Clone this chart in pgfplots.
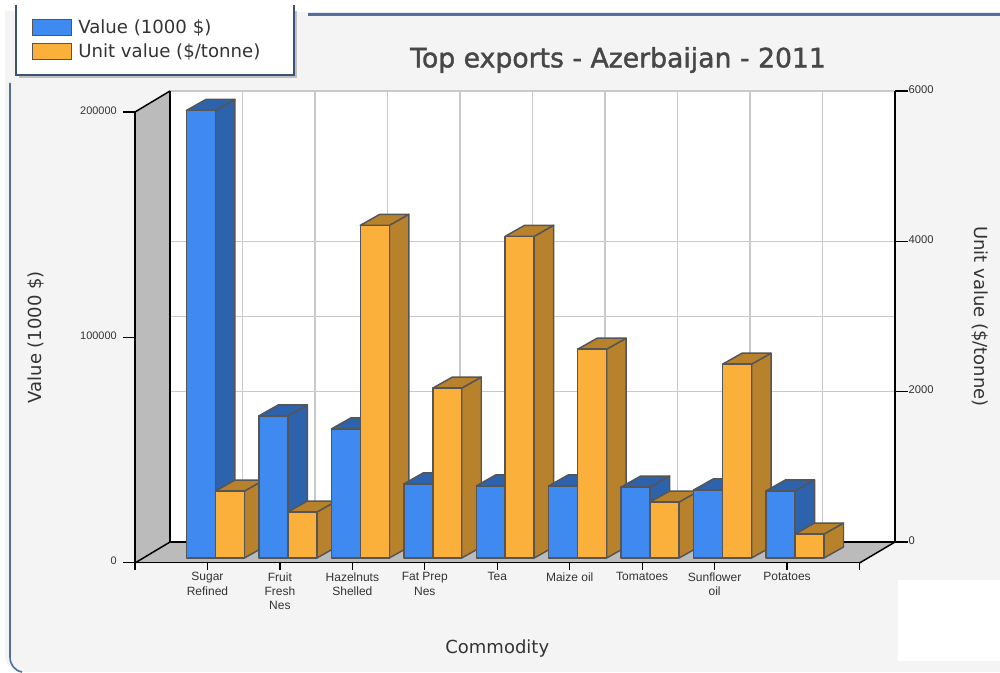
\documentclass[border=0pt]{standalone}
\usepackage{pgfplots}
\pgfplotsset{compat=1.18}
\usepackage{fontspec}
\setmainfont{DejaVu Sans}
\newfontfamily\tickfont{Liberation Sans}
\newfontfamily\titlefont[FakeBold=1.5]{DejaVu Sans}
\definecolor{panel}{HTML}{F4F4F4}
\definecolor{frameblue}{HTML}{4F6F9C}
\definecolor{wall}{HTML}{BBBBBB}
\definecolor{gridgray}{HTML}{C9C9C9}
\definecolor{edge}{HTML}{555555}
\definecolor{valfront}{HTML}{3F8AF0}
\definecolor{valdark}{HTML}{2D63AC}
\definecolor{unitfront}{HTML}{FCB03C}
\definecolor{unitdark}{HTML}{B8822C}
\definecolor{labeltext}{HTML}{333333}

% One box: top and side faces first, then the front face.
% #1 front colour, #2 shaded colour, #3 left edge, #4 height in thousands of left-axis units
\newcommand\boxbar[4]{%
  \pgfmathsetmacro\xa{#3}%
  \pgfmathsetmacro\xb{#3+0.40}%
  \pgfmathsetmacro\xc{#3+0.40+0.269}%
  \pgfmathsetmacro\xd{#3+0.269}%
  \pgfmathsetmacro\yv{#4}%
  \pgfmathsetmacro\yd{#4+4.883}%
  \addplot[draw=edge,line width=1.1pt,fill=#2,line join=round,yshift=3.375pt] coordinates {(\xb,0) (\xc,4.883) (\xc,\yd) (\xb,\yv)} -- cycle;
  \addplot[draw=edge,line width=1.1pt,fill=#2,line join=round,yshift=3.375pt] coordinates {(\xa,\yv) (\xd,\yd) (\xc,\yd) (\xb,\yv)} -- cycle;
  \addplot[draw=edge,line width=1.1pt,fill=#1,line join=round,yshift=3.375pt] coordinates {(\xa,0) (\xa,\yv) (\xb,\yv) (\xb,0)} -- cycle;
}
\newcommand\valuebar[2]{\boxbar{valfront}{valdark}{#1-0.29}{#2}}
% Unit values ($/tonne) share the drawing scale through the 6000 : 200 axis ratio.
\newcommand\unitbar[2]{\boxbar{unitfront}{unitdark}{#1+0.11}{#2*0.033333}}

\begin{document}
\begin{tikzpicture}
\useasboundingbox (0,0) rectangle (750pt,504pt);
\clip (0,0) rectangle (750pt,504pt);

% Page furniture, in pixel units measured from the top left
\begin{scope}[shift={(0,504pt)},x=0.75pt,y=-0.75pt]
  \fill[white] (0,0) rectangle (1000,672);
  \fill[panel] (5,11) -- (1000,11) -- (1000,672) -- (24,672) to[out=180,in=-90] (5,656) -- cycle;
  \fill[white] (294,0) rectangle (1000,12);
  \fill[frameblue!15] (308,12) rectangle (1000,14);
  \draw[frameblue,line width=1.6pt] (308,14.5) -- (1000,14.5);
  \draw[frameblue,line width=1.2pt] (10,83) -- (10,657) to[out=-90,in=170] (22,672);
  \fill[white] (898,580) rectangle (1000,661);
  % legend box
  \fill[black!25] (19,11) rectangle (297,78);
  \fill[white] (16,10) rectangle (294,75);
  \draw[frameblue!75!black,line width=1.2pt] (16,5) -- (16,75) -- (294,75) -- (294,5);
  \draw[edge,line width=1.4pt,fill=valfront] (32.5,19.5) rectangle (71.5,35.5);
  \draw[edge,line width=1.4pt,fill=unitfront] (32.5,43.5) rectangle (71.5,59.5);
  \node[anchor=west,inner sep=0,font=\fontsize{13.6pt}{15pt}\selectfont,text=labeltext] at (78,27.5) {Value (1000 \$)};
  \node[anchor=west,inner sep=0,font=\fontsize{13.6pt}{15pt}\selectfont,text=labeltext] at (78,51.5) {Unit value (\$/tonne)};
  % side wall and floor
  \fill[wall] (135,112) -- (170,91) -- (170,542) -- (135,563) -- cycle;
  \fill[wall] (135,563) -- (170,542) -- (895,542) -- (859.5,563) -- cycle;
\end{scope}

% Back plane: grid and the right-hand axis
\begin{axis}[
  name=backplane,
  scale only axis,
  at={(127.5pt,97.5pt)},anchor=south west,
  width=543.75pt,height=338.25pt,
  xmin=0,xmax=10,ymin=0,ymax=6000,
  axis background/.style={fill=white},
  axis x line*=bottom,
  axis y line*=right,
  axis line style={-,black,line width=1.1pt},
  xtick={0,...,10},xticklabels={},
  xtick style={draw=none},
  ytick={0,2000,4000,6000},
  minor ytick={3000},
  major tick length=9.5pt,
  minor tick length=0pt,
  grid=both,
  major grid style={gridgray,line width=1.1pt},
  minor grid style={gridgray,line width=1.1pt},
  ytick style={black,line width=0.9pt},
  tick align=outside,
  /pgf/number format/fixed,
  /pgf/number format/assume math mode=true,
  /pgf/number format/1000 sep={},
  yticklabel style={font=\tickfont\fontsize{8.4pt}{10pt}\selectfont,text=labeltext,inner sep=0pt,xshift=0.6pt,yshift=1.2pt,anchor=west},
  title={Top exports - Azerbaijan - 2011},
  title style={at={(axis description cs:0.618,1.051)},anchor=center,inner sep=0pt,yshift=0pt,font=\titlefont\fontsize{20pt}{22pt}\selectfont,text=black!72},
  ylabel={Unit value (\$/tonne)},
  ylabel style={at={(axis description cs:1.117,0.5)},anchor=center,rotate=180,inner sep=0pt,font=\fontsize{13.5pt}{15pt}\selectfont,text=labeltext},
  clip=false,
]
\addplot[draw=none,forget plot] coordinates {(0,0) (10,6000)};
\end{axis}

% Left-hand value axis
\begin{axis}[
  scale only axis,
  at={(101.25pt,82.125pt)},anchor=south west,
  width=543.375pt,height=337.875pt,
  xmin=-1,xmax=9,ymin=0,ymax=200000,
  axis x line=none,
  axis y line*=left,
  axis line style={-,black,line width=1.1pt},
  ytick={0,100000,200000},
  scaled y ticks=false,
  major tick length=9pt,
  ytick style={black,line width=0.9pt},
  tick align=outside,
  /pgf/number format/fixed,
  /pgf/number format/assume math mode=true,
  /pgf/number format/1000 sep={},
  yticklabel style={font=\tickfont\fontsize{8.2pt}{10pt}\selectfont,text=labeltext,inner sep=0pt,xshift=-4.5pt,yshift=1.2pt,anchor=east},
  ylabel={Value (1000 \$)},
  ylabel style={at={(axis description cs:-0.1366,0.5)},anchor=center,inner sep=0pt,font=\fontsize{13.5pt}{15pt}\selectfont,text=labeltext},
  clip=false,
]
\addplot[draw=none,forget plot] coordinates {(0,0) (9,200000)};
\end{axis}

% Front plane: the boxes and the commodity axis (heights in thousands)
\begin{axis}[
  scale only axis,
  at={(101.25pt,82.125pt)},anchor=south west,
  width=543.375pt,height=337.875pt,
  xmin=-1,xmax=9,ymin=0,ymax=200,
  axis x line=bottom,
  axis y line=none,
  axis line style={-,black,line width=1.2pt},
  xtick={-1,0,...,9},
  xticklabels={{},{Sugar\\Refined},{Fruit\\Fresh\\Nes},{Hazelnuts\\Shelled},{Fat Prep\\Nes},{Tea},{Maize oil},{Tomatoes},{Sunflower\\oil},{Potatoes},{}},
  major tick length=5.5pt,
  xtick style={black,line width=0.9pt},
  tick align=outside,
  xticklabel style={align=center,font=\tickfont\fontsize{9pt}{10.7pt}\selectfont,text=labeltext,inner sep=0pt,yshift=-1.8pt},
  xlabel={Commodity},
  xlabel style={at={(axis description cs:0.5,-0.1905)},anchor=center,inner sep=0pt,font=\fontsize{13.5pt}{15pt}\selectfont,text=labeltext},
  clip=false,
]
% Painted left to right so that each box hides the side of its neighbour
\valuebar{0}{198.7} \unitbar{0}{891}
\valuebar{1}{63.1}  \unitbar{1}{612}
\valuebar{2}{57.3}  \unitbar{2}{4430}
\valuebar{3}{32.9}  \unitbar{3}{2262}
\valuebar{4}{32.0}  \unitbar{4}{4284}
\valuebar{5}{32.0}  \unitbar{5}{2780}
\valuebar{6}{31.5}  \unitbar{6}{745}
\valuebar{7}{30.2}  \unitbar{7}{2581}
\valuebar{8}{29.8}  \unitbar{8}{319}
\end{axis}

% Oblique edges of the wall and floor
\begin{scope}[shift={(0,504pt)},x=0.75pt,y=-0.75pt]
  \draw[black,line width=1.1pt] (135,112) -- (170,91);
  \draw[black,line width=1.1pt] (135,563) -- (170,542);
  \draw[black,line width=1.1pt] (859.5,563) -- (895,542);
  \draw[black,line width=1.1pt] (170,91) -- (170,542);
\end{scope}
\end{tikzpicture}
\end{document}
